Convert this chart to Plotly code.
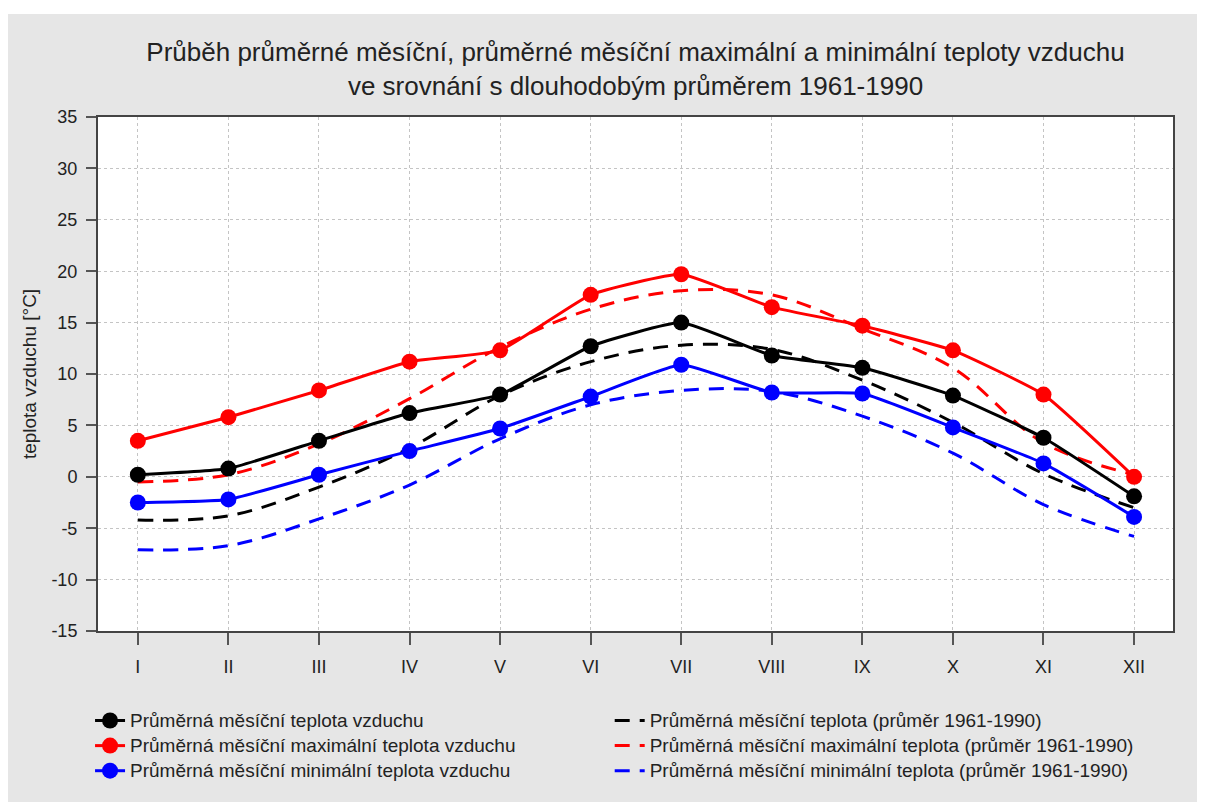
import plotly.graph_objects as go

# months and values
months = ['I', 'II', 'III', 'IV', 'V', 'VI', 'VII', 'VIII', 'IX', 'X', 'XI', 'XII']

t_mean = [0.2, 0.8, 3.5, 6.2, 8.0, 12.7, 15.0, 11.8, 10.6, 7.9, 3.8, -1.9]
t_max = [3.5, 5.8, 8.4, 11.2, 12.3, 17.7, 19.7, 16.5, 14.7, 12.3, 8.0, 0.0]
t_min = [-2.5, -2.2, 0.2, 2.5, 4.7, 7.8, 10.9, 8.2, 8.1, 4.8, 1.3, -3.9]

norm_mean = [-4.2, -3.8, -1.0, 2.8, 7.9, 11.2, 12.8, 12.4, 9.4, 5.3, 0.3, -3.0]
norm_max = [-0.5, 0.2, 3.2, 7.6, 12.6, 16.3, 18.1, 17.7, 14.4, 10.6, 3.3, 0.2]
norm_min = [-7.1, -6.7, -4.1, -0.8, 3.7, 7.0, 8.4, 8.3, 5.9, 2.3, -2.7, -5.8]

y_ticks = [-15, -10, -5, 0, 5, 10, 15, 20, 25, 30, 35]
y_ticklabels = ['-15', '-10', '-5', '0', '5', '10', '15', '20', '25', '30', '35']

FONT = "Liberation Sans, Arial, sans-serif"
BG = "#e6e6e6"
TXT = "#222222"


def big(name):
    # legend rows are spaced by the legend font size, the text itself is a bit larger
    return f'<span style="font-size:19px">{name}</span>'


fig = go.Figure()

actual = [
    (t_mean, 'black', 'Průměrná měsíční teplota vzduchu'),
    (t_max, '#ff0000', 'Průměrná měsíční maximální teplota vzduchu'),
    (t_min, '#0000ff', 'Průměrná měsíční minimální teplota vzduchu'),
]
normals = [
    (norm_mean, 'black', 'Průměrná měsíční teplota (průměr 1961-1990)'),
    (norm_max, '#ff0000', 'Průměrná měsíční maximální teplota (průměr 1961-1990)'),
    (norm_min, '#0000ff', 'Průměrná měsíční minimální teplota (průměr 1961-1990)'),
]

# dashed long-term averages first so the measured lines sit on top
for vals, col, name in normals:
    fig.add_trace(go.Scatter(
        x=months, y=vals, mode='lines', name=big(name),
        line=dict(color=col, width=3, dash='15px,10px', shape='spline', smoothing=1.0),
        legend='legend2'
    ))

for vals, col, name in actual:
    fig.add_trace(go.Scatter(
        x=months, y=vals, mode='lines+markers', name=big(name),
        line=dict(color=col, width=3, shape='spline', smoothing=0.4),
        marker=dict(size=16, color=col),
        legend='legend'
    ))

# thin white strip along the top, like the original image
fig.add_shape(type='rect', xref='paper', yref='paper', x0=-0.2, x1=1.2, y0=1.2004, y1=1.22,
              fillcolor='white', line_width=0, layer='below')

fig.update_layout(
    width=1205, height=802,
    margin=dict(l=90, r=40, t=109, b=179),
    paper_bgcolor=BG,
    plot_bgcolor='white',
    font=dict(family=FONT, size=18, color=TXT),
    title=dict(
        text='Průběh průměrné měsíční, průměrné měsíční maximální a minimální teploty vzduchu<br>ve srovnání s dlouhodobým průměrem 1961-1990',
        x=0.5, xref='paper', xanchor='center', y=0.9335, yanchor='top',
        font=dict(family=FONT, size=26, color=TXT)
    ),
    showlegend=True,
    legend=dict(
        x=-0.0074, xanchor='left', y=-0.140, yanchor='top',
        bgcolor='rgba(0,0,0,0)', font=dict(size=17, color=TXT),
        traceorder='normal', tracegroupgap=0, itemwidth=30
    ),
    legend2=dict(
        x=0.476, xanchor='left', y=-0.140, yanchor='top',
        bgcolor='rgba(0,0,0,0)', font=dict(size=17, color=TXT),
        traceorder='normal', tracegroupgap=0, itemwidth=30
    ),
)

fig.update_xaxes(
    type='category', range=[-0.44, 11.43],
    showline=True, mirror=True, linecolor='#444444', linewidth=2,
    ticks='outside', ticklen=12, tickwidth=2, tickcolor='#555555',
    showgrid=True, gridcolor='#c4c4c4', griddash='dot', gridwidth=1,
    tickfont=dict(size=18, color=TXT), zeroline=False, ticklabelstandoff=6
)
fig.update_yaxes(
    range=[-15, 35], tickvals=y_ticks, ticktext=y_ticklabels,
    showline=True, mirror=True, linecolor='#444444', linewidth=2,
    ticks='outside', ticklen=10, tickwidth=2, tickcolor='#555555',
    showgrid=True, gridcolor='#c4c4c4', griddash='dot', gridwidth=1,
    tickfont=dict(size=18, color=TXT), zeroline=False, ticklabelstandoff=5,
    title=dict(text='teplota vzduchu [°C]', font=dict(size=19, color=TXT), standoff=10)
)

fig.write_html("out.html")
